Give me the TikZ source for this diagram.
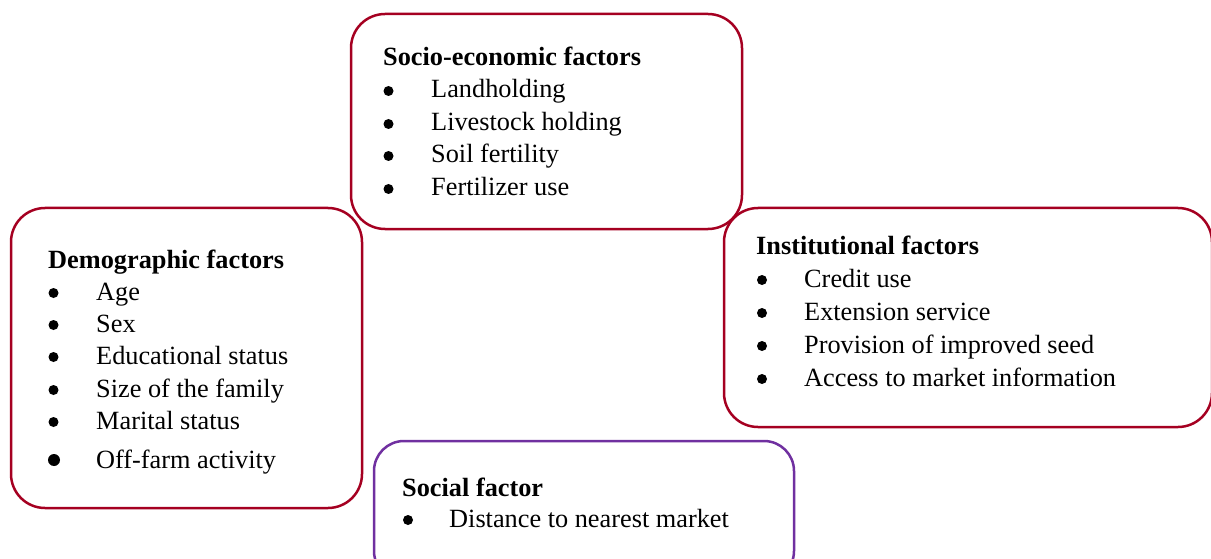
\documentclass[tikz,border=0pt]{standalone}
\usepackage{fontspec}
\setmainfont{Liberation Serif}
\definecolor{boxred}{HTML}{A50021}
\definecolor{boxpurple}{HTML}{7030A0}
\tikzset{
  box/.style={draw=boxred, line width=2.5pt, rounded corners=34pt, inner sep=0pt, fill=none},
  pbox/.style={box, draw=boxpurple, rounded corners=30pt},
  head/.style={anchor=base west, inner sep=0pt, font=\fontsize{26.3}{30}\selectfont\bfseries},
  itm/.style={anchor=base west, inner sep=0pt, font=\fontsize{26.3}{30}\selectfont},
  dot/.style={circle, fill=black, inner sep=0pt, minimum size=10pt},
  bigdot/.style={dot, minimum size=12pt},
}
% #1 name, #2 bullet centre x, #3 text x, #4 baseline y, #5 text
\newcommand{\bitem}[5]{\node[dot] (#1b) at (#2,#4-7) {};\node[itm] (#1) at (#3,#4) {#5};}
\begin{document}
\begin{tikzpicture}[x=1pt,y=-1pt]
\useasboundingbox (0,0) rectangle (1211,559);
% boxes
\node[box, minimum width=391pt, minimum height=215pt] (socio) at (546.5,121.5) {};
\node[box, minimum width=351pt, minimum height=300pt] (demo) at (186.5,358) {};
\node[box, minimum width=488pt, minimum height=219pt] (inst) at (968,317.5) {};
\node[pbox, minimum width=420pt, minimum height=140pt] (social) at (584,511) {};
% socio-economic
\node[head] (socioH) at (383,66) {Socio-economic factors};
\bitem{s1}{388.5}{431}{98}{Landholding}
\bitem{s2}{388.5}{431}{131}{Livestock holding}
\bitem{s3}{388.5}{431}{163}{Soil fertility}
\bitem{s4}{388.5}{431}{196}{Fertilizer use}
% demographic
\node[head] (demoH) at (48,268) {Demographic factors};
\bitem{d1}{53.5}{96}{300}{Age}
\bitem{d2}{53.5}{96}{332}{Sex}
\bitem{d3}{53.5}{96}{364}{Educational status}
\bitem{d4}{53.5}{96}{397}{Size of the family}
\bitem{d5}{53.5}{96}{429}{Marital status}
\node[bigdot] (d6b) at (54,460) {};
\node[itm] (d6) at (96,468) {Off-farm activity};
% institutional
\node[head] (instH) at (756,254) {Institutional factors};
\bitem{i1}{762}{804}{287}{Credit use}
\bitem{i2}{762}{804}{320}{Extension service}
\bitem{i3}{762}{804}{353}{Provision of improved seed}
\bitem{i4}{762}{804}{386}{Access to market information}
% social
\node[head] (socialH) at (402,496) {Social factor};
\bitem{so1}{408}{449}{527}{Distance to nearest market}
\end{tikzpicture}
\end{document}
